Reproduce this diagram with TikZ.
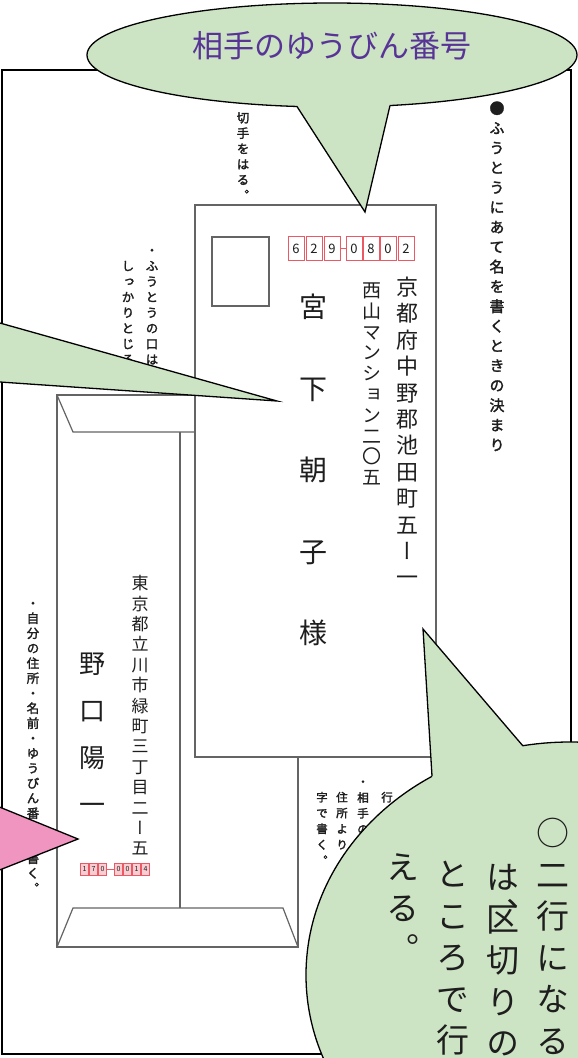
\documentclass[tikz,border=0pt]{standalone}
\usepackage{fontspec}
\newfontfamily\jp{Noto Sans CJK JP}
\newfontfamily\jpv[Script=CJK, RawFeature=+vert]{Noto Sans CJK JP}
\newfontfamily\jpvb[Script=CJK, RawFeature=+vert, FakeBold=2]{Noto Sans CJK JP}
\definecolor{bubgreen}{RGB}{205,228,196}
\definecolor{bubpink}{RGB}{240,148,192}
\definecolor{titlepurple}{RGB}{88,52,150}
\definecolor{envgray}{RGB}{100,100,100}
\definecolor{zipred}{RGB}{235,90,100}
\definecolor{inkc}{RGB}{30,30,30}
\makeatletter
\newcommand\vcol[2]{\vbox{\offinterlineskip\@tfor\vc@t:=#2\do{\vbox to #1{\vss\hbox to 1em{\hss\vrule height .88em depth .12em width 0pt\vc@t\hss}\vss}}}}
\makeatother
\tikzset{
  env/.style={draw=envgray, line width=1.2pt},
  frameline/.style={draw=black, line width=1.5pt},
  bubline/.style={draw=black, line width=1.3pt, line join=miter},
  vtext/.style={inner sep=0pt, anchor=north, text=inkc, font=\jpv\fontsize{#1}{#1}\selectfont},
  vnote/.style={inner sep=0pt, anchor=north, text=inkc, font=\jpvb\fontsize{#1}{#1}\selectfont},
  zipbox/.style={draw=zipred, line width=0.8pt, minimum width=16pt, minimum height=24pt, inner sep=0pt, text=inkc, font=\jp\fontsize{13}{13}\selectfont},
  szipbox/.style={draw=zipred, line width=0.6pt, fill=zipred!30, minimum width=8.5pt, minimum height=12pt, inner sep=0pt, text=inkc, font=\jp\fontsize{7}{7}\selectfont},
}
\begin{document}
\begin{tikzpicture}[x=1pt, y=-1pt]
\useasboundingbox (0,0) rectangle (578,1058);
\clip (0,0) rectangle (578,1058);
\fill[white] (0,0) rectangle (578,1058);
% outer frame
\draw[frameline] (2,70) rectangle (571,1054);
% back envelope (sender side)
\draw[env] (57,395) rectangle (298,947);
\draw[env] (57,395) -- (73,432) -- (195,432);
\draw[env] (180,432) -- (180,908);
\draw[env] (57,947) -- (73,908) -- (283,908) -- (298,947);
% front envelope
\draw[env, fill=white] (195,205) rectangle (436,757);
\node[env, minimum width=57pt, minimum height=69pt, inner sep=0pt] (stamp) at (240.5,271.5) {};
% front zip code
\node[zipbox] (z1) at (296,248.5) {6};
\node[zipbox] (z2) at (314,248.5) {2};
\node[zipbox] (z3) at (332,248.5) {9};
\node[zipbox] (z4) at (354,248.5) {0};
\node[zipbox] (z5) at (371,248.5) {8};
\node[zipbox] (z6) at (388,248.5) {0};
\node[zipbox] (z7) at (406,248.5) {2};
\draw[zipred, line width=0.8pt] (z3.east) -- (z4.west);
% front address and name
\node[vtext=22] (addr1) at (407,273.8) {\vcol{26.4pt}{京都府中野郡池田町五ー一}};
\node[vtext=19] (addr2) at (372,279.6) {\vcol{20.8pt}{西山マンション二〇五}};
\node[vtext=28] (name) at (313,266.25) {\vcol{81.5pt}{宮下朝子様}};
% sender
\node[vtext=17] (saddr) at (140,572.8) {\vcol{20.4pt}{東京都立川市緑町三丁目二ー五}};
\node[vtext=26] (sname) at (92,639.5) {\vcol{47pt}{野口陽一}};
\node[szipbox] (s1) at (84.5,869) {1};
\node[szipbox] (s2) at (93.5,869) {7};
\node[szipbox] (s3) at (102.5,869) {0};
\node[szipbox] (s4) at (118.5,869) {0};
\node[szipbox] (s5) at (127.5,869) {0};
\node[szipbox] (s6) at (136.5,869) {1};
\node[szipbox] (s7) at (145.5,869) {4};
\draw[zipred, line width=0.8pt] (s3.east) -- (s4.west);
% notes
\node[vnote=15] (rule) at (497,98.1) {\vcol{19.8pt}{●ふうとうにあて名を書くときの決まり}};
\node[vnote=12.5] (nstamp) at (243,94.25) {\vcol{15.5pt}{・切手をはる︒}};
\node[vnote=12.5] (nseal1) at (152,242.2) {\vcol{15.6pt}{・ふうとうの口は}};
\node[vnote=12.5] (nseal2) at (128,257.8) {\vcol{15.6pt}{しっかりとじる}};
\node[vnote=12.5] (nself) at (33,595.5) {\vcol{15pt}{・自分の住所・名前・ゆうびん番号を書く︒}};
\node[vnote=11.5] (nr1) at (387,789.1) {\vcol{15.8pt}{行}};
\node[vnote=11.5] (nr2) at (363,773.6) {\vcol{15.8pt}{・相手の}};
\node[vnote=11.5] (nr3) at (342,789.1) {\vcol{15.8pt}{住所より}};
\node[vnote=11.5] (nr4) at (322,789.1) {\vcol{15.8pt}{字で書く︒}};
% left green tail
\fill[bubgreen] (-3,322.2) -- (277,401) -- (-3,381.8) -- cycle;
\draw[bubline] (-3,322.2) -- (277,401) -- (-3,381.8);
% pink pointer
\fill[bubpink] (-3,806) -- (78,839) -- (-3,871) -- cycle;
\draw[bubline] (-3,806) -- (78,839) -- (-3,871);
% top bubble
\draw[bubline, fill=bubgreen] (332,55) ellipse [x radius=245pt, y radius=52pt];
\fill[bubgreen] (297,106.5) -- (365,212) -- (390,105.5) -- (385,95) -- (302,95) -- cycle;
\draw[bubline] (297,106.5) -- (365,212) -- (390,105.5);
\node[text=titlepurple, font=\jp\fontsize{31}{31}\selectfont, inner sep=0pt] (title) at (332,46) {相手のゆうびん番号};
% bottom right bubble
\draw[bubline, fill=bubgreen] (570,975) ellipse [x radius=264pt, y radius=233pt];
\fill[bubgreen] (432,776) -- (423,629) -- (523,746) -- (520,760) -- (440,790) -- cycle;
\draw[bubline] (432,776) -- (423,629) -- (523,746);
\node[vtext=33] (b1) at (553,812.25) {\vcol{41.5pt}{○二行になる}};
\node[vtext=33] (b2) at (503,856.25) {\vcol{41.5pt}{は区切りの}};
\node[vtext=33] (b2c) at (503,893) {\vcol{41.5pt}{︑}};
\node[vtext=33] (b3) at (453,853.25) {\vcol{41.5pt}{ところで行}};
\node[vtext=33] (b4) at (403,846.25) {\vcol{41pt}{える︒}};
\end{tikzpicture}
\end{document}
